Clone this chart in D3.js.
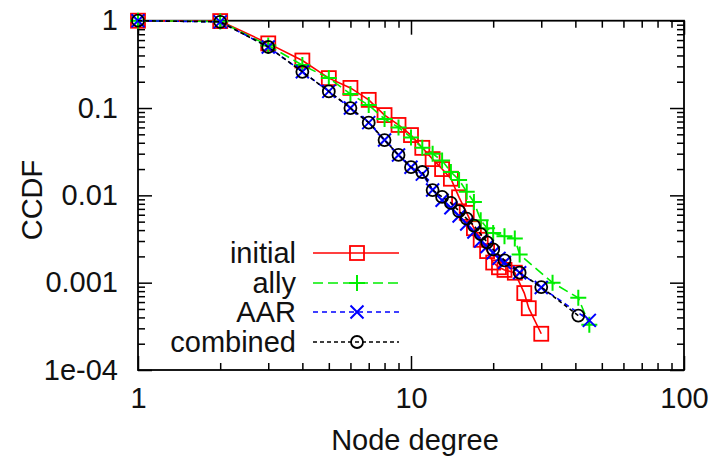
<!DOCTYPE html>
<html>
<head>
<script src="https://d3js.org/d3.v7.min.js"></script>
<style>
  body { margin: 0; background: #fff; }
  text { font-family: "Liberation Sans", Arial, sans-serif; fill: #111; }
</style>
</head>
<body>
<div id="chart"></div>
<script>
// Data (node degree vs CCDF)
var degInitial  = [1, 2, 3, 4, 5, 6, 7, 8, 9, 10, 11, 12, 13, 14, 15, 16, 17, 18, 19, 20, 21, 22, 24, 26, 27, 30];
var ccdfInitial = [1, 0.99, 0.55, 0.35, 0.22, 0.17, 0.124, 0.083, 0.064, 0.049, 0.035, 0.026, 0.02, 0.0155, 0.0095, 0.0063, 0.0042, 0.0031, 0.0023, 0.0017, 0.0015, 0.0014, 0.0013, 0.00076, 0.00051, 0.00026];

var degAlly  = [1, 2, 3, 4, 5, 6, 7, 8, 9, 10, 11, 12, 13, 14, 15, 16, 17, 18, 19, 20, 22, 24, 25, 33, 41, 45];
var ccdfAlly = [1, 0.98, 0.52, 0.31, 0.22, 0.145, 0.108, 0.075, 0.06, 0.046, 0.035, 0.03, 0.025, 0.0185, 0.015, 0.011, 0.0084, 0.0052, 0.0042, 0.0037, 0.0034, 0.0032, 0.0021, 0.001, 0.00067, 0.00033];

var degAAR  = [1, 2, 3, 4, 5, 6, 7, 8, 9, 10, 11, 12, 13, 14, 15, 16, 17, 18, 19, 20, 21, 22, 25, 30, 45];
var ccdfAAR = [1, 0.97, 0.5, 0.26, 0.155, 0.1, 0.068, 0.043, 0.029, 0.021, 0.0175, 0.0115, 0.0088, 0.0072, 0.0058, 0.0047, 0.0038, 0.003, 0.0026, 0.0022, 0.0019, 0.0017, 0.0013, 0.00088, 0.00037];

var degCombined  = [1, 2, 3, 4, 5, 6, 7, 8, 9, 10, 11, 12, 13, 14, 15, 16, 17, 18, 19, 20, 22, 25, 30, 41];
var ccdfCombined = [1, 0.97, 0.5, 0.26, 0.155, 0.1, 0.068, 0.043, 0.029, 0.021, 0.0185, 0.0115, 0.0096, 0.0082, 0.0066, 0.0054, 0.0045, 0.0036, 0.0029, 0.0024, 0.0018, 0.0013, 0.00089, 0.00042];

var seriesNames = ["initial", "ally", "AAR", "combined"];
var xMajor = [1, 10, 100];
var yMajor = [1, 0.1, 0.01, 0.001, 1e-4];
var yLabels = ["1", "0.1", "0.01", "0.001", "1e-04"];

// Layout
var W = 715, H = 458;
var plotLeft = 138, plotRight = 684, plotTop = 20.7, plotBottom = 370;
var fontSize = 29;

var svg = d3.select("#chart").append("svg")
    .attr("width", W).attr("height", H);

var x = d3.scaleLog().domain([1, 100]).range([plotLeft, plotRight]);
var y = d3.scaleLog().domain([1e-4, 1]).range([plotBottom, plotTop]);

// minor tick values
var xMinor = [];
[1, 10].forEach(function (d) { for (var k = 2; k <= 9; k++) xMinor.push(d * k); });
var yMinor = [];
[1e-4, 1e-3, 1e-2, 1e-1].forEach(function (d) { for (var k = 2; k <= 9; k++) yMinor.push(d * k); });

function addAxis(axis, tx, ty) {
    var g = svg.append("g")
        .attr("transform", "translate(" + tx + "," + ty + ")")
        .call(axis);
    g.select(".domain").remove();
    g.selectAll("line").attr("stroke", "#000").attr("stroke-width", 1.5);
    g.selectAll("text").attr("font-size", fontSize).attr("fill", "#111")
        .style("font-family", "'Liberation Sans', Arial, sans-serif");
    return g;
}

// bottom axis
addAxis(d3.axisBottom(x).tickValues(xMajor).tickSize(-14).tickPadding(17)
    .tickFormat(function (d) { return String(d); }), 0, plotBottom);
addAxis(d3.axisBottom(x).tickValues(xMinor).tickSize(-7).tickFormat(""), 0, plotBottom);
// top axis (mirror)
addAxis(d3.axisTop(x).tickValues(xMajor).tickSize(-14).tickFormat(""), 0, plotTop);
addAxis(d3.axisTop(x).tickValues(xMinor).tickSize(-7).tickFormat(""), 0, plotTop);
// left axis
addAxis(d3.axisLeft(y).tickValues(yMajor).tickSize(-14).tickPadding(20)
    .tickFormat(function (d, i) { return yLabels[i]; }), plotLeft, 0);
addAxis(d3.axisLeft(y).tickValues(yMinor).tickSize(-7).tickFormat(""), plotLeft, 0);
// right axis (mirror)
addAxis(d3.axisRight(y).tickValues(yMajor).tickSize(-14).tickFormat(""), plotRight, 0);
addAxis(d3.axisRight(y).tickValues(yMinor).tickSize(-7).tickFormat(""), plotRight, 0);

// frame
svg.append("rect")
    .attr("x", plotLeft).attr("y", plotTop)
    .attr("width", plotRight - plotLeft).attr("height", plotBottom - plotTop)
    .attr("fill", "none").attr("stroke", "#000").attr("stroke-width", 1.8);

// axis titles
svg.append("text")
    .attr("x", 415).attr("y", 450)
    .attr("text-anchor", "middle")
    .attr("font-size", fontSize)
    .text("Node degree");

svg.append("text")
    .attr("transform", "translate(42,200) rotate(-90)")
    .attr("text-anchor", "middle")
    .attr("font-size", fontSize)
    .text("CCDF");

// marker shapes
function marker(g, type, color) {
    if (type === "square") {
        g.append("rect").attr("x", -7).attr("y", -7).attr("width", 14).attr("height", 14)
            .attr("fill", "none").attr("stroke", color).attr("stroke-width", 1.8);
    } else if (type === "plus") {
        g.append("path").attr("d", "M-8,0H8M0,-8V8")
            .attr("stroke", color).attr("stroke-width", 2);
    } else if (type === "cross") {
        g.append("path").attr("d", "M-6.5,-6.5L6.5,6.5M-6.5,6.5L6.5,-6.5")
            .attr("stroke", color).attr("stroke-width", 2);
    } else {
        g.append("circle").attr("r", 6)
            .attr("fill", "none").attr("stroke", color).attr("stroke-width", 1.8);
    }
}

var series = [
    { name: seriesNames[0], xs: degInitial,  ys: ccdfInitial,  color: "#ff0000", dash: null,  type: "square" },
    { name: seriesNames[1], xs: degAlly,     ys: ccdfAlly,     color: "#00ee00", dash: "10,5", type: "plus" },
    { name: seriesNames[2], xs: degAAR,      ys: ccdfAAR,      color: "#0000ff", dash: "5,4", type: "cross" },
    { name: seriesNames[3], xs: degCombined, ys: ccdfCombined, color: "#000000", dash: "4,3", type: "circle" }
];

var line = d3.line()
    .x(function (d) { return x(d[0]); })
    .y(function (d) { return y(d[1]); });

series.forEach(function (s) {
    var pts = s.xs.map(function (d, i) { return [d, s.ys[i]]; });
    svg.append("path")
        .datum(pts)
        .attr("d", line)
        .attr("fill", "none")
        .attr("stroke", s.color)
        .attr("stroke-width", 1.6)
        .attr("stroke-dasharray", s.dash);
    pts.forEach(function (p) {
        var g = svg.append("g")
            .attr("transform", "translate(" + x(p[0]) + "," + y(p[1]) + ")");
        marker(g, s.type, s.color);
    });
});

// legend
var legendY = [253, 283, 312, 342];
series.forEach(function (s, i) {
    var ly = legendY[i];
    svg.append("text")
        .attr("x", 296).attr("y", ly)
        .attr("dy", "0.35em")
        .attr("text-anchor", "end")
        .attr("font-size", fontSize)
        .text(s.name);
    svg.append("line")
        .attr("x1", 313).attr("x2", 399)
        .attr("y1", ly).attr("y2", ly)
        .attr("stroke", s.color).attr("stroke-width", 1.6)
        .attr("stroke-dasharray", s.dash);
    var g = svg.append("g").attr("transform", "translate(357," + ly + ")");
    marker(g, s.type, s.color);
});
</script>
</body>
</html>
